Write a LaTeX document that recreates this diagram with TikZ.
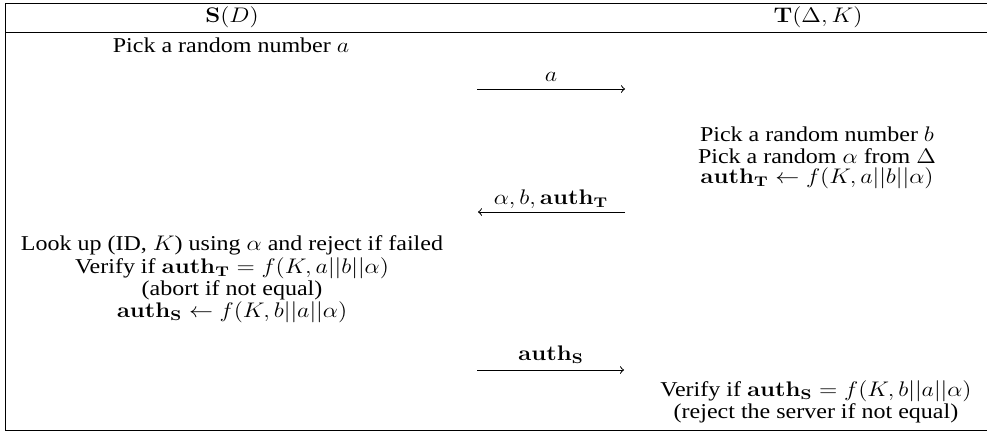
\documentclass[tikz,border=0pt]{standalone}
\usepackage{amsmath}
\usepackage{graphicx}
\usepackage[no-math]{fontspec}
\setmainfont{Liberation Serif}
\newcommand{\squash}[1]{\scalebox{1}[0.88]{#1}}
\begin{document}
\begin{tikzpicture}[x=0.5pt,y=-0.5pt,
  txt/.style={inner sep=0pt,anchor=center,font=\fontsize{12}{14}\selectfont},
  frame/.style={line width=0.5pt},
  msg/.style={line width=0.5pt,-to},
  lbl/.style={inner sep=0pt,anchor=center,font=\fontsize{12}{14}\selectfont}]
\useasboundingbox (0,0) rectangle (987,434);
% frame
\coordinate (tl) at (5,3);
\coordinate (tr) at (987,3);
\coordinate (hl) at (5,32);
\coordinate (hr) at (987,32);
\coordinate (bl) at (5,430);
\coordinate (br) at (987,430);
\draw[frame] (tr) -- (tl) -- (bl) -- (br);
\draw[frame] (hl) -- (hr);
% headers
\node[txt] (hS) at (232,17) {\squash{$\mathbf{S}(D)$}};
\node[txt] (hT) at (818,17) {\squash{$\mathbf{T}(\Delta,K)$}};
% S step 1
\node[txt] (s1) at (231,45) {\squash{Pick a random number $a$}};
% message 1
\coordinate (m1a) at (477,89);
\coordinate (m1b) at (625,89);
\draw[msg] (m1a) -- (m1b);
\node[lbl] (l1) at (551,77) {\squash{$a$}};
% T steps
\node[txt] (t1) at (817,134) {\squash{Pick a random number $b$}};
\node[txt] (t2) at (817,156) {\squash{Pick a random $\alpha$ from $\Delta$}};
\node[txt] (t3) at (817,178) {\squash{$\mathbf{auth}_{\mathbf{T}}\leftarrow f(K,a||b||\alpha)$}};
% message 2
\coordinate (m2a) at (625,212);
\coordinate (m2b) at (478,212);
\draw[msg] (m2a) -- (m2b);
\node[lbl] (l2) at (551,199) {\squash{$\alpha,b,\mathbf{auth}_{\mathbf{T}}$}};
% S steps
\node[txt] (s2) at (232,245) {\squash{Look up (ID, $K$) using $\alpha$ and reject if failed}};
\node[txt] (s3) at (232,268) {\squash{Verify if $\mathbf{auth}_{\mathbf{T}}=f(K,a||b||\alpha)$}};
\node[txt] (s4) at (232,290) {\squash{(abort if not equal)}};
\node[txt] (s5) at (232,312) {\squash{$\mathbf{auth}_{\mathbf{S}}\leftarrow f(K,b||a||\alpha)$}};
% message 3
\coordinate (m3a) at (477,370);
\coordinate (m3b) at (624,370);
\draw[msg] (m3a) -- (m3b);
\node[lbl] (l3) at (551,355) {\squash{$\mathbf{auth}_{\mathbf{S}}$}};
% T final
\node[txt] (t4) at (816,391) {\squash{Verify if $\mathbf{auth}_{\mathbf{S}}=f(K,b||a||\alpha)$}};
\node[txt] (t5) at (816,413) {\squash{(reject the server if not equal)}};
\end{tikzpicture}
\end{document}
